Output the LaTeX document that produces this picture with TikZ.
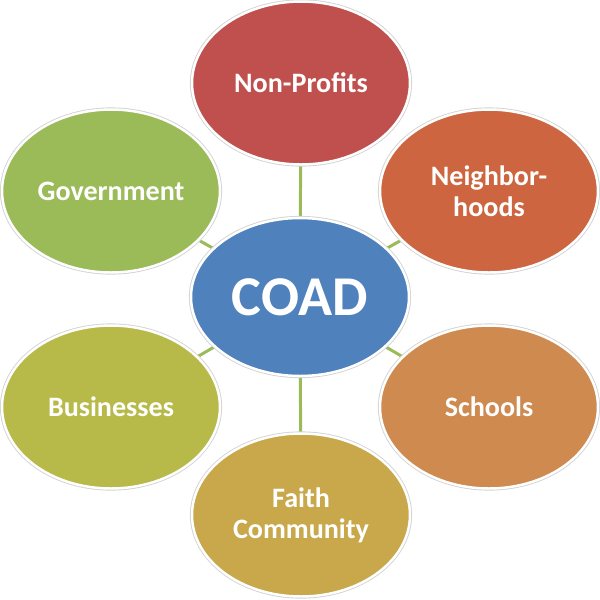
\documentclass[tikz,border=0pt]{standalone}
\usepackage{fontspec}
\setmainfont{Carlito}
\usepackage{tikz}
\usetikzlibrary{shapes.geometric, backgrounds}
\usepackage{xcolor}
\definecolor{coadblue}{HTML}{4F81BD}
\definecolor{npred}{HTML}{C0504D}
\definecolor{nbhorange}{HTML}{CD6640}
\definecolor{schorange}{HTML}{CE8A4F}
\definecolor{faithgold}{HTML}{C8A84B}
\definecolor{bizolive}{HTML}{B7BA48}
\definecolor{govgreen}{HTML}{9BBB59}

\begin{document}
\begin{tikzpicture}[
    x=0.02cm, y=-0.02cm,
    hub/.style={ellipse, inner sep=0pt, minimum width=4.36cm,
                minimum height=3.16cm, draw=white, line width=1.4pt,
                preaction={draw=gray!35, line width=2.4pt},
                text=white, font=\bfseries\fontsize{32}{35}\selectfont},
    spoke/.style={hub, minimum height=3.26cm, align=center,
                  font=\bfseries\fontsize{16}{17.6}\selectfont},
    link/.style={govgreen, line width=1.7pt}
  ]
    \useasboundingbox (0,0) rectangle (600,600);
    % centre and the six partners around it
    \node[hub, fill=coadblue] (coad) at (300,297) {COAD};
    \node[spoke, fill=npred] (np) at (301,83) {Non-Profits};
    \node[spoke, fill=nbhorange] (nbh) at (489,191) {Neighbor-\\hoods};
    \node[spoke, fill=schorange] (sch) at (489,407) {Schools};
    \node[spoke, fill=faithgold] (faith) at (301,515) {Faith\\Community};
    \node[spoke, fill=bizolive] (biz) at (111,407) {Businesses};
    \node[spoke, fill=govgreen] (gov) at (111,191) {Government};
    % links sit behind the ellipses
    \begin{scope}[on background layer]
      \foreach \p in {np, nbh, sch, faith, biz, gov}
        \draw[link] (coad.center) -- (\p.center);
    \end{scope}
  \end{tikzpicture}
\end{document}
